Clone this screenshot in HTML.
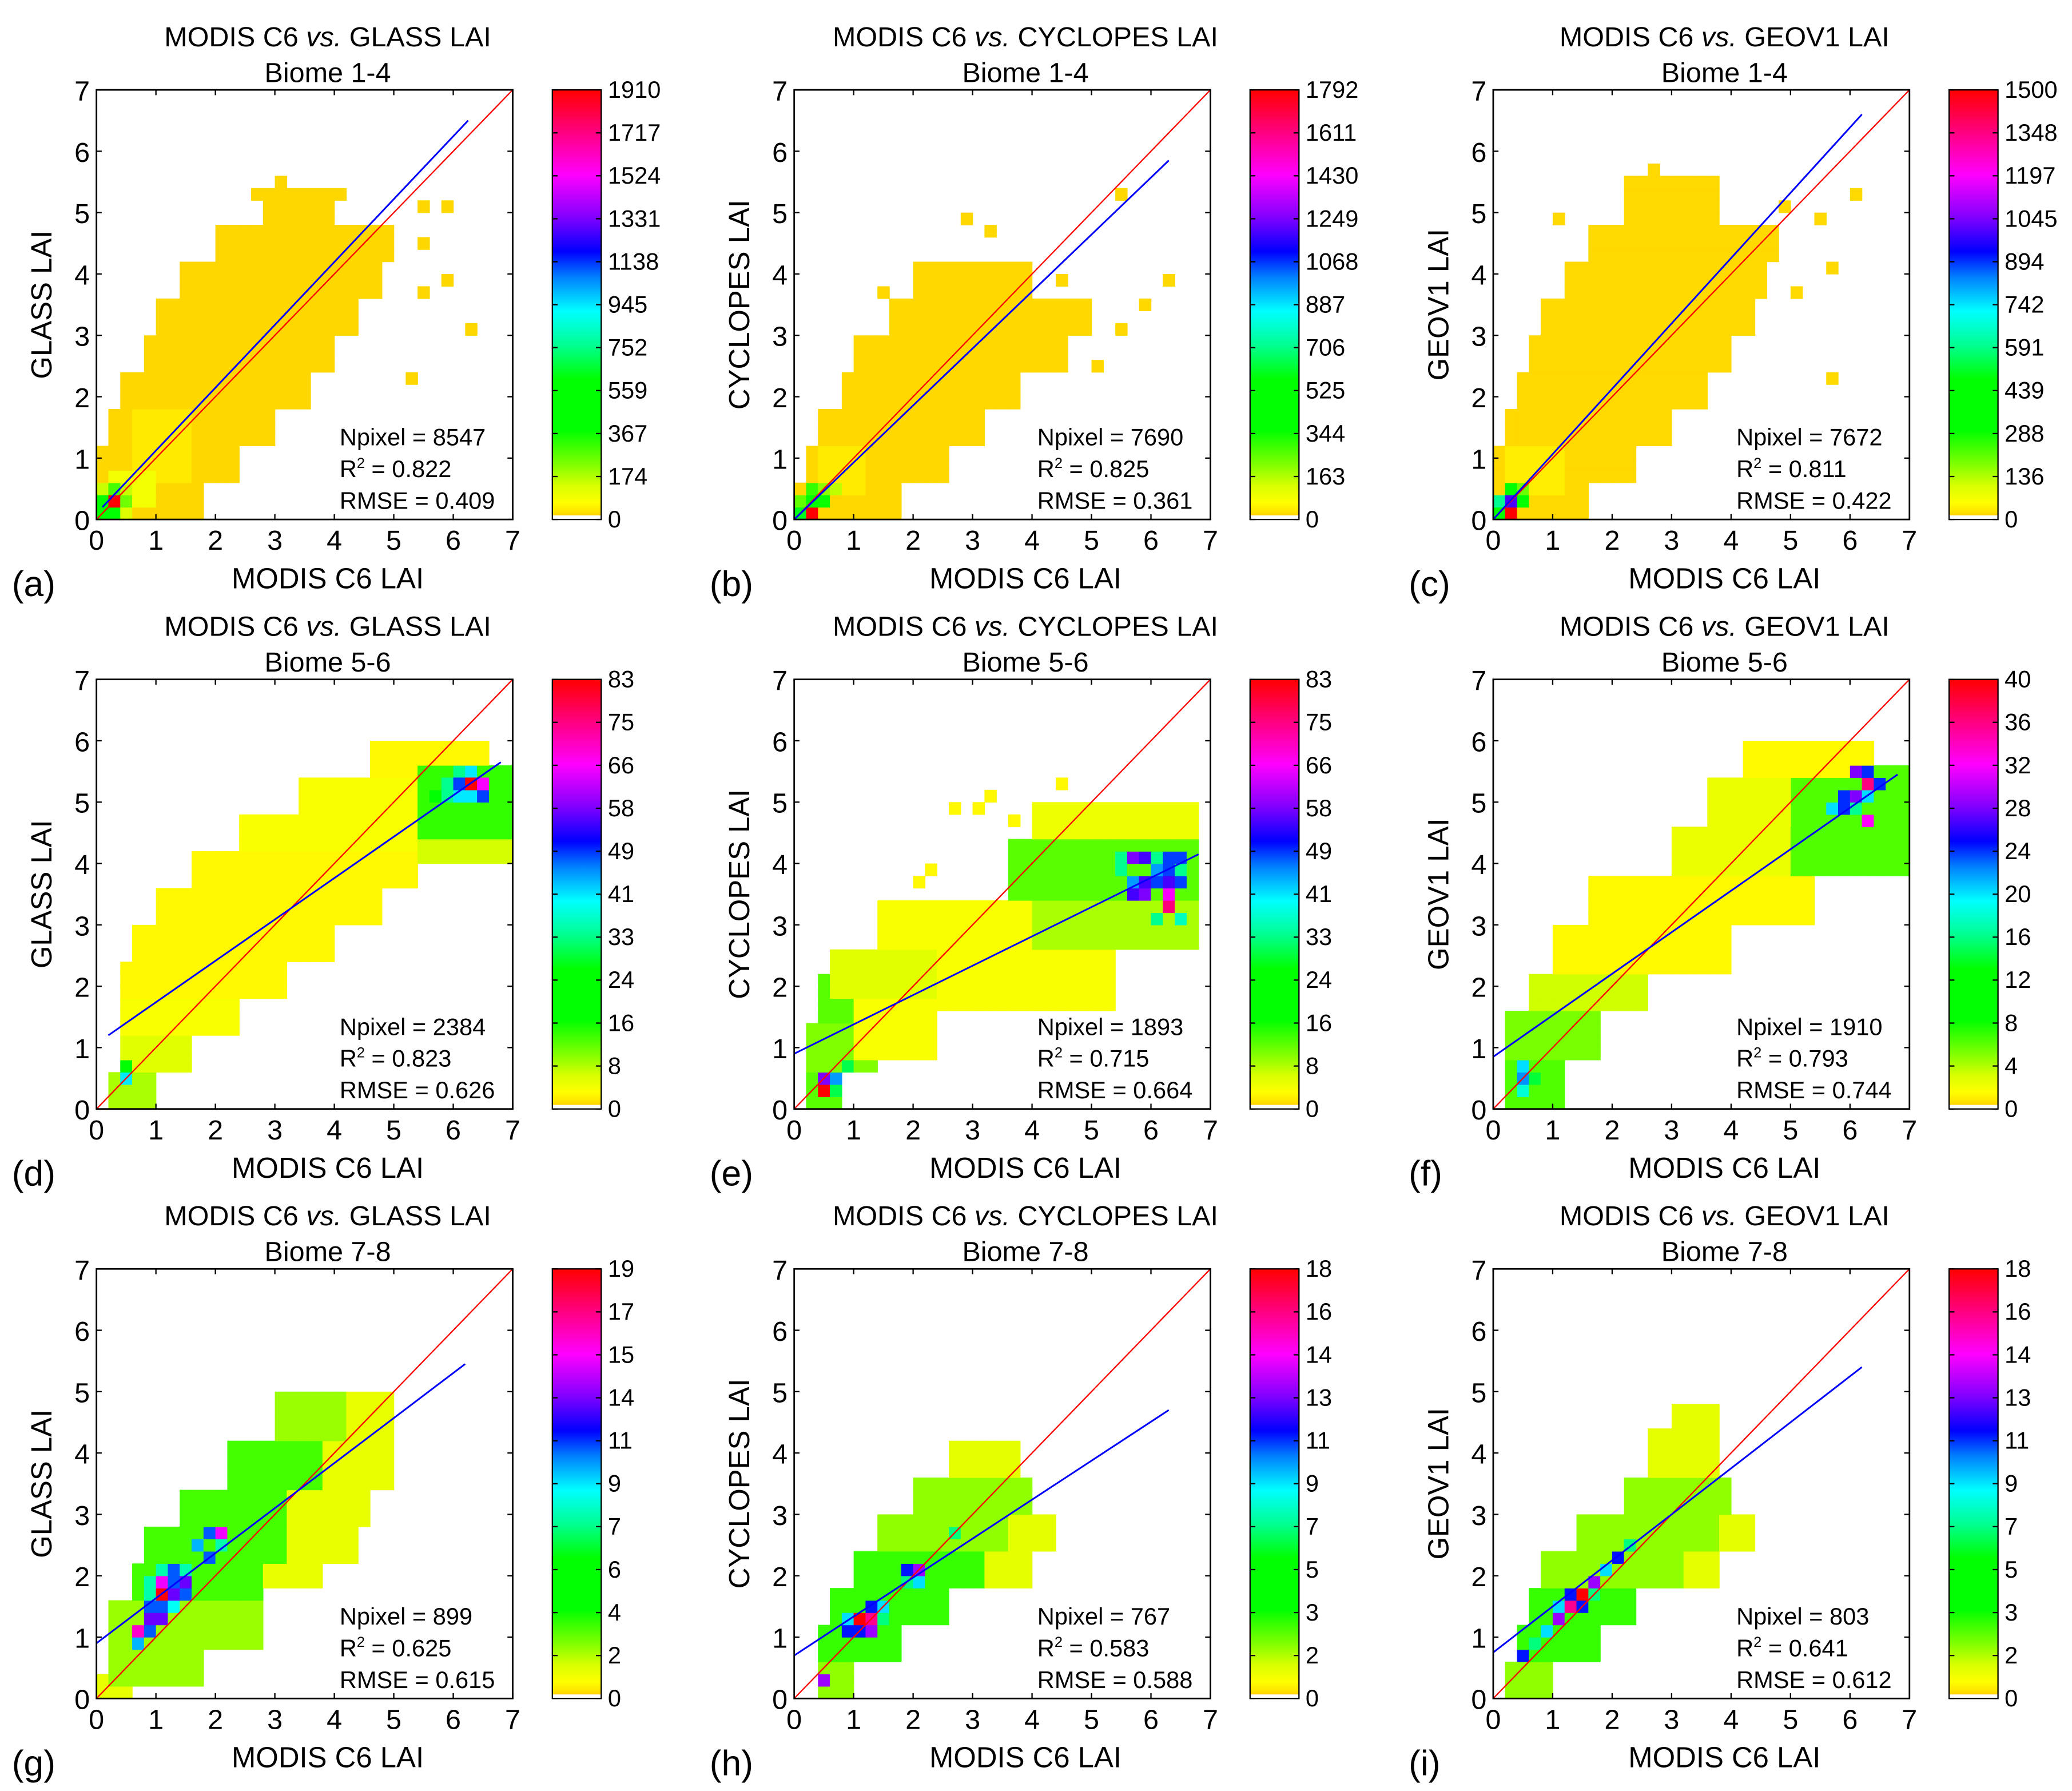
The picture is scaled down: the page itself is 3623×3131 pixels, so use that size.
<!DOCTYPE html>
<html><head><meta charset="utf-8"><style>
html,body{margin:0;padding:0;background:#fff}
svg{display:block}
text{font-family:"Liberation Sans",sans-serif;fill:#000}
</style></head><body>
<svg id="fig" width="3623" height="3131" viewBox="0 0 1568 1355" preserveAspectRatio="none" xmlns="http://www.w3.org/2000/svg">
<defs>
<linearGradient id="cmap" x1="0" y1="1" x2="0" y2="0">
<stop offset="0" stop-color="#ffd200"/><stop offset="0.01" stop-color="#ffe600"/><stop offset="0.03" stop-color="#ffff00"/>
<stop offset="0.07" stop-color="#d8ff00"/><stop offset="0.12" stop-color="#80ff00"/><stop offset="0.2" stop-color="#00ff00"/>
<stop offset="0.32" stop-color="#00ff00"/><stop offset="0.4" stop-color="#00ff90"/><stop offset="0.48" stop-color="#00ffff"/>
<stop offset="0.56" stop-color="#0080ff"/><stop offset="0.62" stop-color="#0000ff"/><stop offset="0.7" stop-color="#8000ff"/>
<stop offset="0.8" stop-color="#ff00ff"/><stop offset="0.9" stop-color="#ff0080"/><stop offset="1" stop-color="#ff0000"/>
</linearGradient>
</defs>
</svg>
<script>
// ---- data ----
const panelLetters = ['a','b','c','d','e','f','g','h','i'];
const products = ['GLASS','CYCLOPES','GEOV1'];
const biomes = ['Biome 1-4','Biome 5-6','Biome 7-8'];
const npixels = [8547,7690,7672,2384,1893,1910,899,767,803];
const r2s = ['0.822','0.825','0.811','0.823','0.715','0.793','0.625','0.583','0.641'];
const rmses = ['0.409','0.361','0.422','0.626','0.664','0.744','0.615','0.588','0.612'];
const cbTicks = [
 [0,174,367,559,752,945,1138,1331,1524,1717,1910],
 [0,163,344,525,706,887,1068,1249,1430,1611,1792],
 [0,136,288,439,591,742,894,1045,1197,1348,1500],
 [0,8,16,24,33,41,49,58,66,75,83],
 [0,8,16,24,33,41,49,58,66,75,83],
 [0,4,8,12,16,20,24,28,32,36,40],
 [0,2,4,6,7,9,11,14,15,17,19],
 [0,2,3,5,7,9,11,13,14,16,18],
 [0,2,3,5,7,9,11,13,14,16,18]];
// regression line endpoints [x0,y0,x1,y1]
const fitLines = [
 [0.1,0.2,6.25,6.5],[0,0,6.3,5.85],[0,0,6.2,6.6],
 [0.2,1.2,6.8,5.65],[0,0.9,6.8,4.15],[0,0.85,6.8,5.45],
 [0,0.9,6.2,5.45],[0,0.7,6.3,4.7],[0,0.75,6.2,5.4]];
// density segments [y0,y1,x0,x1,count]
const segs = [
 [[0,0.6,0,1.8,5],[0.6,1.2,0,2.4,5],[1.2,1.8,0.2,3.0,5],[1.8,2.4,0.4,3.6,5],[2.4,3.0,0.8,4.0,5],[3.0,3.6,1.0,4.4,5],[3.6,4.2,1.4,4.8,5],[4.2,4.8,2.0,5.0,5],[4.8,5.4,2.8,4.0,5],[0.6,1.8,0.6,1.6,25],[0.2,0.8,0.2,1.0,80]],
 [[0,0.6,0,1.8,5],[0.6,1.2,0.2,2.6,5],[1.2,1.8,0.4,3.2,5],[1.8,2.4,0.8,3.8,5],[2.4,3.0,1.0,4.6,5],[3.0,3.6,1.6,5.0,5],[3.6,4.2,2.0,4.0,5],[0.4,1.2,0.4,1.2,25]],
 [[0,0.6,0,1.6,5],[0.6,1.2,0,2.4,5],[1.2,1.8,0.2,3.0,5],[1.8,2.4,0.4,3.6,5],[2.4,3.0,0.6,4.0,5],[3.0,3.6,0.8,4.4,5],[3.6,4.2,1.2,4.6,5],[4.2,4.8,1.6,4.8,5],[4.8,5.6,2.2,3.8,5],[0.4,1.2,0.2,1.2,25]],
 [[0,0.6,0.2,1.0,8],[0.6,1.2,0.4,1.6,5],[1.2,1.8,0.4,2.4,3],[1.8,2.4,0.4,3.2,2],[2.4,3.0,0.6,4.0,2],[3.0,3.6,1.0,4.8,2],[3.6,4.2,1.6,5.4,2],[4.2,4.8,2.4,5.4,3],[4.8,5.4,3.4,5.4,3],[5.4,6.0,4.6,6.6,2],[4.0,5.6,5.4,7.0,14],[4.0,4.4,5.4,7.0,6]],
 [[0,0.6,0.2,0.8,12],[0.6,1.4,0.2,1.4,10],[1.4,2.2,0.4,1.6,12],[0.8,1.8,1.0,2.4,3],[1.8,2.6,0.6,2.4,5],[1.6,2.6,2.4,5.4,3],[2.6,3.4,1.4,4.0,3],[2.6,3.4,4.0,6.8,8],[3.4,4.4,3.6,6.8,12],[4.4,5.0,4.0,6.8,4]],
 [[0,0.8,0.2,1.2,6],[0.8,1.6,0.2,1.8,5],[1.6,2.2,0.6,2.6,3],[2.2,3.0,1.0,4.0,1],[3.0,3.8,1.6,5.4,1],[3.8,4.6,3.0,5.0,2],[3.8,5.6,5.0,7.0,6],[4.6,5.4,3.6,5.0,2],[5.4,6.0,4.2,6.4,1]],
 [[0,0.4,0,0.6,1],[0.2,0.8,0.2,1.8,2],[0.8,1.6,0.2,2.8,2],[1.6,2.2,0.6,2.8,3],[1.8,2.2,2.8,3.8,1],[2.2,2.8,0.8,3.2,3],[2.2,2.8,3.2,4.4,1],[2.8,3.4,1.4,3.2,3],[2.8,3.6,3.2,4.6,1],[3.4,4.2,2.2,3.8,3],[3.4,4.2,3.8,5.0,1],[4.2,5.0,3.0,4.2,2],[4.2,5.0,4.2,5.0,1]],
 [[0,0.6,0.4,1.0,2],[0.6,1.2,0.4,1.8,3],[1.2,1.8,0.6,2.6,3],[1.8,2.4,1.0,3.2,3],[1.8,2.4,3.2,4.0,1],[2.4,3.0,1.4,3.6,2],[2.4,3.0,3.6,4.4,1],[3.0,3.6,2.0,4.0,2],[3.6,4.2,2.6,3.8,1]],
 [[0,0.6,0.2,1.0,2],[0.6,1.2,0.4,1.8,3],[1.2,1.8,0.6,2.4,3],[1.8,2.4,0.8,3.2,2],[1.8,2.4,3.2,3.8,1],[2.4,3.0,1.4,3.8,2],[2.4,3.0,3.8,4.4,1],[3.0,3.6,2.2,4.0,2],[3.6,4.4,2.6,3.8,1],[4.4,4.8,3.0,3.8,1]]];
// hotspot and outlier cells [x,y,count]
const hots = [
 [[0.2,0.2,1910],[0,0,600],[0.2,0,500],[0,0.2,500],[0.4,0.2,250],[0.2,0.4,300],[0,0.4,150],[0.4,0.4,150],[0.4,0,120],[5.4,5.0,5],[5.8,5.0,5],[6.2,3.0,5],[5.2,2.2,5],[4.8,4.6,5],[5.4,4.4,5],[5.8,3.8,5],[3.0,5.4,5],[2.6,5.2,5],[4.0,5.2,5],[5.4,3.6,5]],
 [[0.2,0,1792],[0,0,600],[0.2,0.2,500],[0.4,0.2,350],[0.2,0.4,300],[0.4,0.4,200],[0.6,0.4,150],[0,0.2,250],[5.4,5.2,5],[2.8,4.8,5],[3.2,4.6,5],[6.2,3.8,5],[5.8,3.4,5],[5.4,3.0,5],[5.0,2.4,5],[4.4,3.8,5],[1.4,3.6,5]],
 [[0.2,0,1500],[0.2,0.2,1000],[0,0.2,600],[0.4,0.2,300],[0.2,0.4,400],[0.4,0.4,200],[0,0,300],[1.0,4.8,5],[1.8,4.6,5],[2.6,5.6,5],[4.8,5.0,5],[5.4,4.8,5],[6.0,5.2,5],[5.6,4.0,5],[5.6,2.2,5],[5.0,3.6,5]],
 [[6.2,5.2,83],[6.4,5.2,66],[6.0,5.2,49],[6.2,5.0,41],[6.4,5.0,49],[6.0,5.0,41],[5.8,5.0,33],[5.8,5.2,33],[6.0,5.4,33],[6.2,5.4,41],[5.6,5.0,24],[0.4,0.4,41],[0.4,0.6,20]],
 [[0.4,0.2,83],[0.4,0.4,58],[0.6,0.4,45],[0.6,0.2,30],[0.8,0.6,30],[6.2,3.2,75],[6.2,3.4,66],[5.6,3.4,55],[5.8,3.4,58],[5.6,3.6,45],[5.8,3.6,55],[6.0,3.6,49],[6.2,3.6,55],[6.4,3.6,49],[5.8,4.0,55],[6.0,4.0,33],[6.2,4.0,49],[6.4,4.0,49],[6.0,3.8,45],[6.2,3.8,49],[6.4,3.8,33],[5.4,3.8,33],[5.4,4.0,33],[5.6,4.0,58],[6.0,3.0,33],[6.4,3.0,36],[2.6,4.8,2],[3.0,4.8,2],[3.2,5.0,2],[4.4,5.2,2],[3.6,4.6,2],[2.2,3.8,2],[2.0,3.6,2]],
 [[0.4,0.2,18],[0.4,0.4,22],[0.4,0.6,20],[0.6,0.4,14],[6.2,5.2,36],[6.0,5.4,28],[6.2,5.4,24],[5.8,5.0,24],[6.0,5.0,28],[6.2,5.0,20],[5.8,4.8,24],[6.0,4.8,16],[6.2,4.6,32],[5.6,4.8,20],[6.4,5.2,24]],
 [[1.0,1.6,19],[1.0,1.8,15],[1.2,1.8,11],[1.4,1.8,13],[1.2,1.6,13],[1.4,1.6,11],[0.8,1.6,8],[0.8,1.8,8],[0.8,1.4,11],[1.0,1.4,11],[1.2,1.4,9],[0.8,1.2,13],[1.0,1.2,13],[0.6,1.0,16],[0.8,1.0,11],[0.6,0.8,10],[1.0,2.0,8],[1.2,2.0,11],[1.4,2.0,8],[1.8,2.2,11],[1.8,2.6,11],[2.0,2.6,15],[1.6,2.4,10],[2.0,2.4,8]],
 [[1.0,1.2,18],[1.2,1.2,16],[1.2,1.0,13],[1.0,1.0,11],[0.8,1.2,9],[1.4,1.4,9],[1.2,1.4,11],[0.8,1.0,11],[1.8,2.0,11],[2.0,2.0,13],[2.0,1.8,9],[1.8,1.8,7],[2.6,2.6,7],[0.4,0.2,13],[1.4,1.2,7]],
 [[1.4,1.6,18],[1.2,1.4,16],[1.0,1.2,13],[1.2,1.6,11],[1.6,1.8,13],[1.4,1.4,11],[1.0,1.4,9],[0.8,1.0,9],[2.0,2.2,11],[1.8,2.0,9],[0.4,0.6,11],[0.6,0.8,7],[1.6,1.6,7],[2.2,2.4,7]]];

// ---- drawing ----
const NS='http://www.w3.org/2000/svg';
const svg=document.getElementById('fig');
const colX=[73,601,1130], rowY0=[393,839,1285];
const PW=315, PH=325, BIN=0.2;
const stops=[[0,'#ffd200'],[0.01,'#ffe600'],[0.03,'#ffff00'],[0.07,'#d8ff00'],[0.12,'#80ff00'],[0.2,'#00ff00'],[0.32,'#00ff00'],[0.4,'#00ff90'],[0.48,'#00ffff'],[0.56,'#0080ff'],[0.62,'#0000ff'],[0.7,'#8000ff'],[0.8,'#ff00ff'],[0.9,'#ff0080'],[1,'#ff0000']];
function hex(h){return [1,3,5].map(i=>parseInt(h.substr(i,2),16));}
function cmap(t){t=Math.max(0,Math.min(1,t));for(let i=1;i<stops.length;i++){if(t<=stops[i][0]){const a=stops[i-1],b=stops[i];const f=(t-a[0])/(b[0]-a[0]||1);const ca=hex(a[1]),cb=hex(b[1]);return 'rgb('+ca.map((v,k)=>Math.round(v+(cb[k]-v)*f)).join(',')+')';}}return '#ff0000';}
function el(tag,attrs,parent){const e=document.createElementNS(NS,tag);for(const k in attrs)e.setAttribute(k,attrs[k]);(parent||svg).appendChild(e);return e;}
function txt(s,attrs,parent){const t=el('text',attrs,parent);t.textContent=s;return t;}

for(let p=0;p<9;p++){
  const col=p%3,row=Math.floor(p/3);
  const x0=colX[col], y0=rowY0[row];
  const sx=v=>x0+v*PW/7, sy=v=>y0-v*PH/7;
  const g=el('g',{});
  
  
  const max=cbTicks[p][10];
  const grid={};
  for(const s of segs[p]){
    for(let y=s[0];y<s[1]-1e-6;y+=BIN)for(let x=s[2];x<s[3]-1e-6;x+=BIN){grid[Math.round(x/BIN)+','+Math.round(y/BIN)]=s[4];}
  }
  for(const h of hots[p]){grid[Math.round(h[0]/BIN)+','+Math.round(h[1]/BIN)]=h[2];}
  const cells=el('g',{},g);
  
  
  for(const k in grid){
    const [i,j]=k.split(',').map(Number);
    const r=el('rect',{x:sx(i*BIN),y:sy((j+1)*BIN),width:(sx(BIN)-sx(0))+0.3,height:(sy(0)-sy(BIN))+0.3,fill:cmap(grid[k]/max)},cells);
    
    
  }
  const one=el('line',{x1:sx(0),y1:sy(0),x2:sx(7),y2:sy(7),stroke:'#ff0000','stroke-width':1},g);
  
  
  const f=fitLines[p];
  const fit=el('line',{x1:sx(f[0]),y1:sy(f[1]),x2:sx(f[2]),y2:sy(f[3]),stroke:'#0000ff','stroke-width':1.3},g);
  
  
  const fr=el('rect',{x:x0,y:sy(7),width:PW,height:PH,fill:'none',stroke:'#000','stroke-width':1.2},g);
  
  
  for(let v=0;v<=7;v++){
    el('line',{x1:sx(v),y1:y0,x2:sx(v),y2:y0-4,stroke:'#000'},g);
    el('line',{x1:sx(v),y1:sy(7),x2:sx(v),y2:sy(7)+4,stroke:'#000'},g);
    el('line',{x1:x0,y1:sy(v),x2:x0+4,y2:sy(v),stroke:'#000'},g);
    el('line',{x1:x0+PW,y1:sy(v),x2:x0+PW-4,y2:sy(v),stroke:'#000'},g);
    const xt=txt(String(v),{x:sx(v),y:y0+23,'font-size':21,'text-anchor':'middle'},g);
    
    
    const yt=txt(String(v),{x:x0-5,y:sy(v)+8,'font-size':21,'text-anchor':'end'},g);
    
    
  }
  const t1=txt('',{x:x0+175,y:sy(7)-33,'font-size':21,'text-anchor':'middle'},g);
  
  
  const a1=el('tspan',{},t1);a1.textContent='MODIS C6 ';
  const a2=el('tspan',{'font-style':'italic'},t1);a2.textContent='vs.';
  const a3=el('tspan',{},t1);a3.textContent=' '+products[col]+' LAI';
  const t2=txt(biomes[row],{x:x0+175,y:sy(7)-6,'font-size':21,'text-anchor':'middle'},g);
  
  
  const xl=txt('MODIS C6 LAI',{x:x0+175,y:y0+52,'font-size':22,'text-anchor':'middle'},g);
  
  
  const yl=txt(products[col]+' LAI',{x:0,y:0,'font-size':22,'text-anchor':'middle',transform:'translate('+(x0-34)+','+(y0-PH/2)+') rotate(-90)'},g);
  
  
  const pl=txt('('+panelLetters[p]+')',{x:x0-64,y:y0+58,'font-size':27},g);
  
  
  const s1=txt('Npixel = '+npixels[p],{x:x0+184,y:y0-56,'font-size':18},g);
  
  
  const s2=txt('',{x:x0+184,y:y0-32,'font-size':18},g);
  
  
  const b1=el('tspan',{},s2);b1.textContent='R';
  const b2=el('tspan',{'font-size':11,dy:-7},s2);b2.textContent='2';
  const b3=el('tspan',{dy:7},s2);b3.textContent=' = '+r2s[p];
  const s3=txt('RMSE = '+rmses[p],{x:x0+184,y:y0-8,'font-size':18},g);
  
  
  const cbx=x0+345, cbw=37;
  const cb=el('rect',{x:cbx,y:sy(7),width:cbw,height:PH-3,fill:'url(#cmap)'},g);
  
  
  el('rect',{x:cbx,y:y0-3,width:cbw,height:3,fill:'#fff'},g);
  el('rect',{x:cbx,y:sy(7),width:cbw,height:PH,fill:'none',stroke:'#000','stroke-width':1},g);
  for(let k=0;k<=10;k++){
    const yy=y0-k*PH/10;
    el('line',{x1:cbx,y1:yy,x2:cbx+4,y2:yy,stroke:'#000'},g);
    el('line',{x1:cbx+cbw,y1:yy,x2:cbx+cbw-4,y2:yy,stroke:'#000'},g);
    const ct=txt(String(cbTicks[p][k]),{x:cbx+cbw+5,y:yy+6,'font-size':18},g);
    
    
  }
}
</script>
</body></html>
